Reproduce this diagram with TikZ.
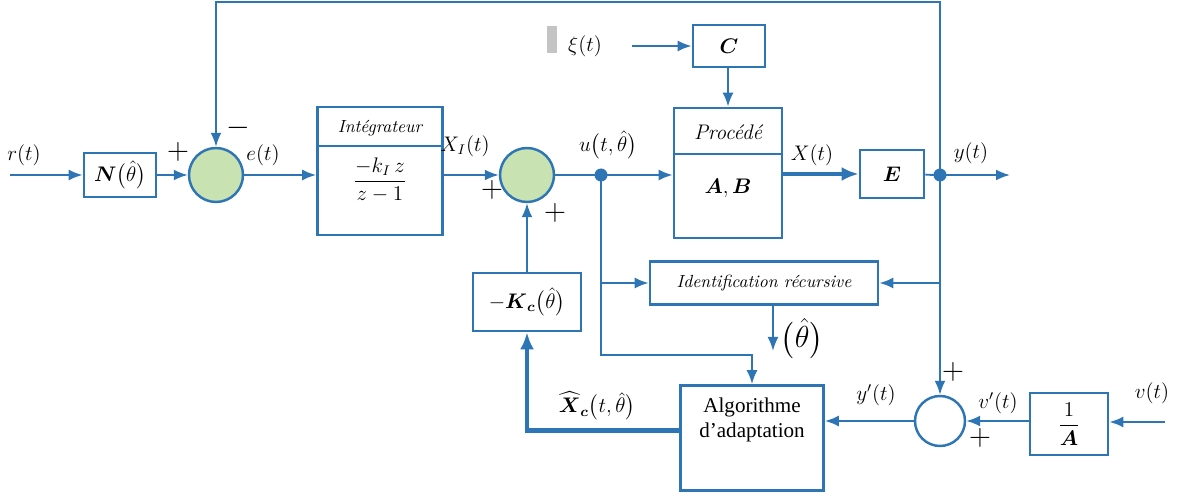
\documentclass[tikz,border=0pt]{standalone}
\usepackage{amsmath}
\usepackage{fontspec}
\usepackage{tikz}
\usetikzlibrary{
  arrows.meta,
  positioning
}
\newfontfamily\timesfont{Liberation Serif}
\definecolor{wire}{HTML}{2E75B6}
\definecolor{sumfill}{HTML}{C8E3B1}
\definecolor{markgray}{HTML}{C4C4C4}
\newcommand{\bv}[1]{\boldsymbol{#1}}
\tikzset{
  sig/.style={
    -{Latex[length=2.8mm,width=2.2mm]},
    line width=1.1pt,
    draw=wire
  },
  thicksig/.style={
    -{Latex[length=3.4mm,width=2.8mm]},
    line width=2.8pt,
    draw=wire
  },
  plain/.style={
    line width=1.1pt,
    draw=wire
  },
  block/.style={
    draw=wire,
    fill=white,
    line width=1.6pt,
    align=center,
    inner sep=1pt
  },
  sumnode/.style={
    circle,
    draw=wire,
    fill=sumfill,
    line width=1.4pt,
    minimum size=1.08cm,
    inner sep=0pt
  },
  junction/.style={
    circle,
    fill=wire,
    minimum size=2.6mm,
    inner sep=0pt
  },
  sig label/.style={
    font=\large,
    inner sep=1pt
  },
  sign/.style={
    font=\LARGE,
    inner sep=0pt
  }
}

\begin{document}
\begin{tikzpicture}[x=0.02cm, y=-0.02cm]
  \useasboundingbox (0,0) rectangle (1180,496);

  \coordinate (in) at (10,175);
  \coordinate (out) at (1010,175);
  \coordinate (vin) at (1165,422);

  \node[block, minimum width=1.44cm, minimum height=0.88cm] (N) at (120,175)
    {\large $\bv{N}\big(\hat{\theta}\big)$};
  \node[sumnode] (s1) at (216,175) {};
  \node[block, minimum width=2.5cm, minimum height=2.56cm] (intg) at (380,171) {};
  \node[font=\itshape] (intgtxt) at (380,128) {Intégrateur};
  \node[font=\large] (intgtf) at (380,180) {$\dfrac{-k_{I}\,z}{z-1}$};
  \node[sumnode] (s2) at (527,175) {};
  \node[junction] (ud) at (601,175) {};
  \node[block, minimum width=2.16cm, minimum height=2.6cm] (proc) at (728,173) {};
  \node[font=\large\itshape] (proctxt) at (728,132) {Procédé};
  \node[font=\large] (proctf) at (728,188) {$\bv{A},\bv{B}$};
  \node[block, minimum width=1.44cm, minimum height=0.84cm] (C) at (729,46)
    {\large $\bv{C}$};
  \node[block, minimum width=1.28cm, minimum height=0.96cm] (E) at (892,174)
    {\large $\bv{E}$};
  \node[junction] (yd) at (940,175) {};
  \node[block, minimum width=2.16cm, minimum height=1.16cm] (Kc) at (527,302)
    {\large $-\bv{K}_{\bv{c}}\big(\hat{\theta}\big)$};
  \node[block, minimum width=4.56cm, minimum height=0.86cm, font=\itshape] (ident)
    at (764,283) {Identification récursive};
  \node[block, minimum width=2.86cm, minimum height=2.1cm] (algo) at (752,438) {};
  \node[font=\timesfont\large, align=center] (algotxt) at (752,420)
    {Algorithme\\d’adaptation};
  \node[sumnode, fill=white, minimum size=1.0cm] (s3) at (940,421) {};
  \node[block, minimum width=1.56cm, minimum height=1.24cm] (invA) at (1069,424)
    {\large $\dfrac{1}{\bv{A}}$};

  \fill[markgray] (547,26) rectangle (557,53);
  \node[sig label] (xi) at (585,46) {$\xi(t)$};

  \draw[plain] (proc.west |- 0,154) -- (proc.east |- 0,154);
  \draw[plain] (intg.west |- 0,146) -- (intg.east |- 0,146);

  \draw[sig] (in) -- (N);
  \draw[sig] (N) -- (s1);
  \draw[sig] (s1) -- (intg.west |- s1);
  \draw[sig] (intg.east |- s2) -- (s2);
  \draw[plain] (s2) -- (ud.center);
  \draw[sig] (ud.center) -- (proc.west |- ud);
  \draw[thicksig] (proc.east |- E) -- (E);
  \draw[plain] (E) -- (yd.center);
  \draw[sig] (yd.center) -- (out);
  \draw[sig] (yd.center) -- ++(0,-173) -| (s1.north);
  \draw[sig] (xi.east) ++(28,0) -- (C);
  \draw[sig] (C) -- (proc.north |- C.south) -- (proc.north);
  \draw[sig] (Kc) -- (s2);
  \draw[sig] (ud.center |- ident) -- (ident);
  \draw[sig] (yd.center |- ident) -- (ident);
  \draw[sig] ([xshift=0.18cm]ident.south) -- ++(0,45) coordinate (th);
  \draw[sig] (ud.center) -- (601,355) -| (algo.north);
  \draw[sig] (yd.center) -- (s3.north);
  \draw[sig] (vin) -- (invA.east |- vin);
  \draw[sig] (invA.west |- s3) -- (s3);
  \draw[sig] (s3) -- (algo.east |- s3);
  \draw[thicksig] ([yshift=0.15cm]algo.west) -| (Kc);

  \node[sig label] (rl) at (24,155) {$r(t)$};
  \node[sign] (p1) at (178,152) {$+$};
  \node[sign] (m1) at (238,128) {$-$};
  \node[sig label] (el) at (263,155) {$e(t)$};
  \node[sig label] (xil) at (465,146) {$X_{I}(t)$};
  \node[sign] (p2) at (492,190) {$+$};
  \node[sign] (p3) at (555,213) {$+$};
  \node[sig label] (ul) at (608,145) {$u\big(t,\hat{\theta}\big)$};
  \node[sig label] (xl) at (812,155) {$X(t)$};
  \node[sig label] (yl) at (971,153) {$y(t)$};
  \node[font=\LARGE, right=1pt of th, yshift=0.25cm] (thl) {$\big(\hat{\theta}\big)$};
  \node[sig label] (xcl) at (597,406) {$\widehat{\bv{X}}_{\bv{c}}\big(t,\hat{\theta}\big)$};
  \node[sig label] (ypl) at (876,395) {$y'(t)$};
  \node[sig label] (vpl) at (998,403) {$v'(t)$};
  \node[sig label] (vl) at (1152,393) {$v(t)$};
  \node[sign] (p4) at (953,372) {$+$};
  \node[sign] (p5) at (980,438) {$+$};
\end{tikzpicture}
\end{document}
